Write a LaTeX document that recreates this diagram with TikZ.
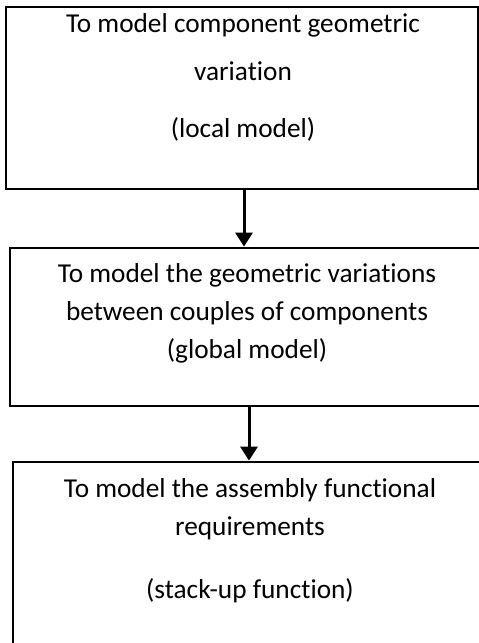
\documentclass[tikz,border=0pt]{standalone}
\usepackage{fontspec}
\setmainfont[Ligatures=NoCommon]{Carlito}
\usetikzlibrary{arrows.meta}
\begin{document}
\begin{tikzpicture}[x=1pt,y=-1pt,
  box/.style={draw=black,line width=2.8pt,minimum width=#1,inner sep=0pt},
  txt/.style={anchor=base,inner sep=0pt,font=\fontsize{27.3}{32}\selectfont},
  arr/.style={line width=3pt,-{Triangle[width=17pt,length=14pt]}}]
\useasboundingbox (0,0) rectangle (479,643);
\begin{scope}
\clip (0,0) rectangle (479,643);
\node[box=472pt,minimum height=182pt] (b1) at (242,98) {};
\node[box=471pt,minimum height=158pt] (b2) at (245.5,327) {};
\node[box=471pt,minimum height=184pt] (b3) at (248.5,554) {};
\end{scope}
\node[txt] (t11) at (243,32) {To model component geometric};
\node[txt] (t12) at (243,80) {variation};
\node[txt] (t13) at (243,137) {(local model)};
\node[txt] (t21) at (247,282) {To model the geometric variations};
\node[txt] (t22) at (247,320) {between couples of components};
\node[txt] (t23) at (247,358) {(global model)};
\node[txt] (t31) at (250,497) {To model the assembly functional};
\node[txt] (t32) at (250,535) {requirements};
\node[txt] (t33) at (250,598) {(stack-up function)};
\coordinate (x1) at (244,0);
\coordinate (x2) at (249,0);
\draw[arr] (b1.south -| x1) -- (b2.north -| x1);
\draw[arr] (b2.south -| x2) -- (b3.north -| x2);
\end{tikzpicture}
\end{document}
